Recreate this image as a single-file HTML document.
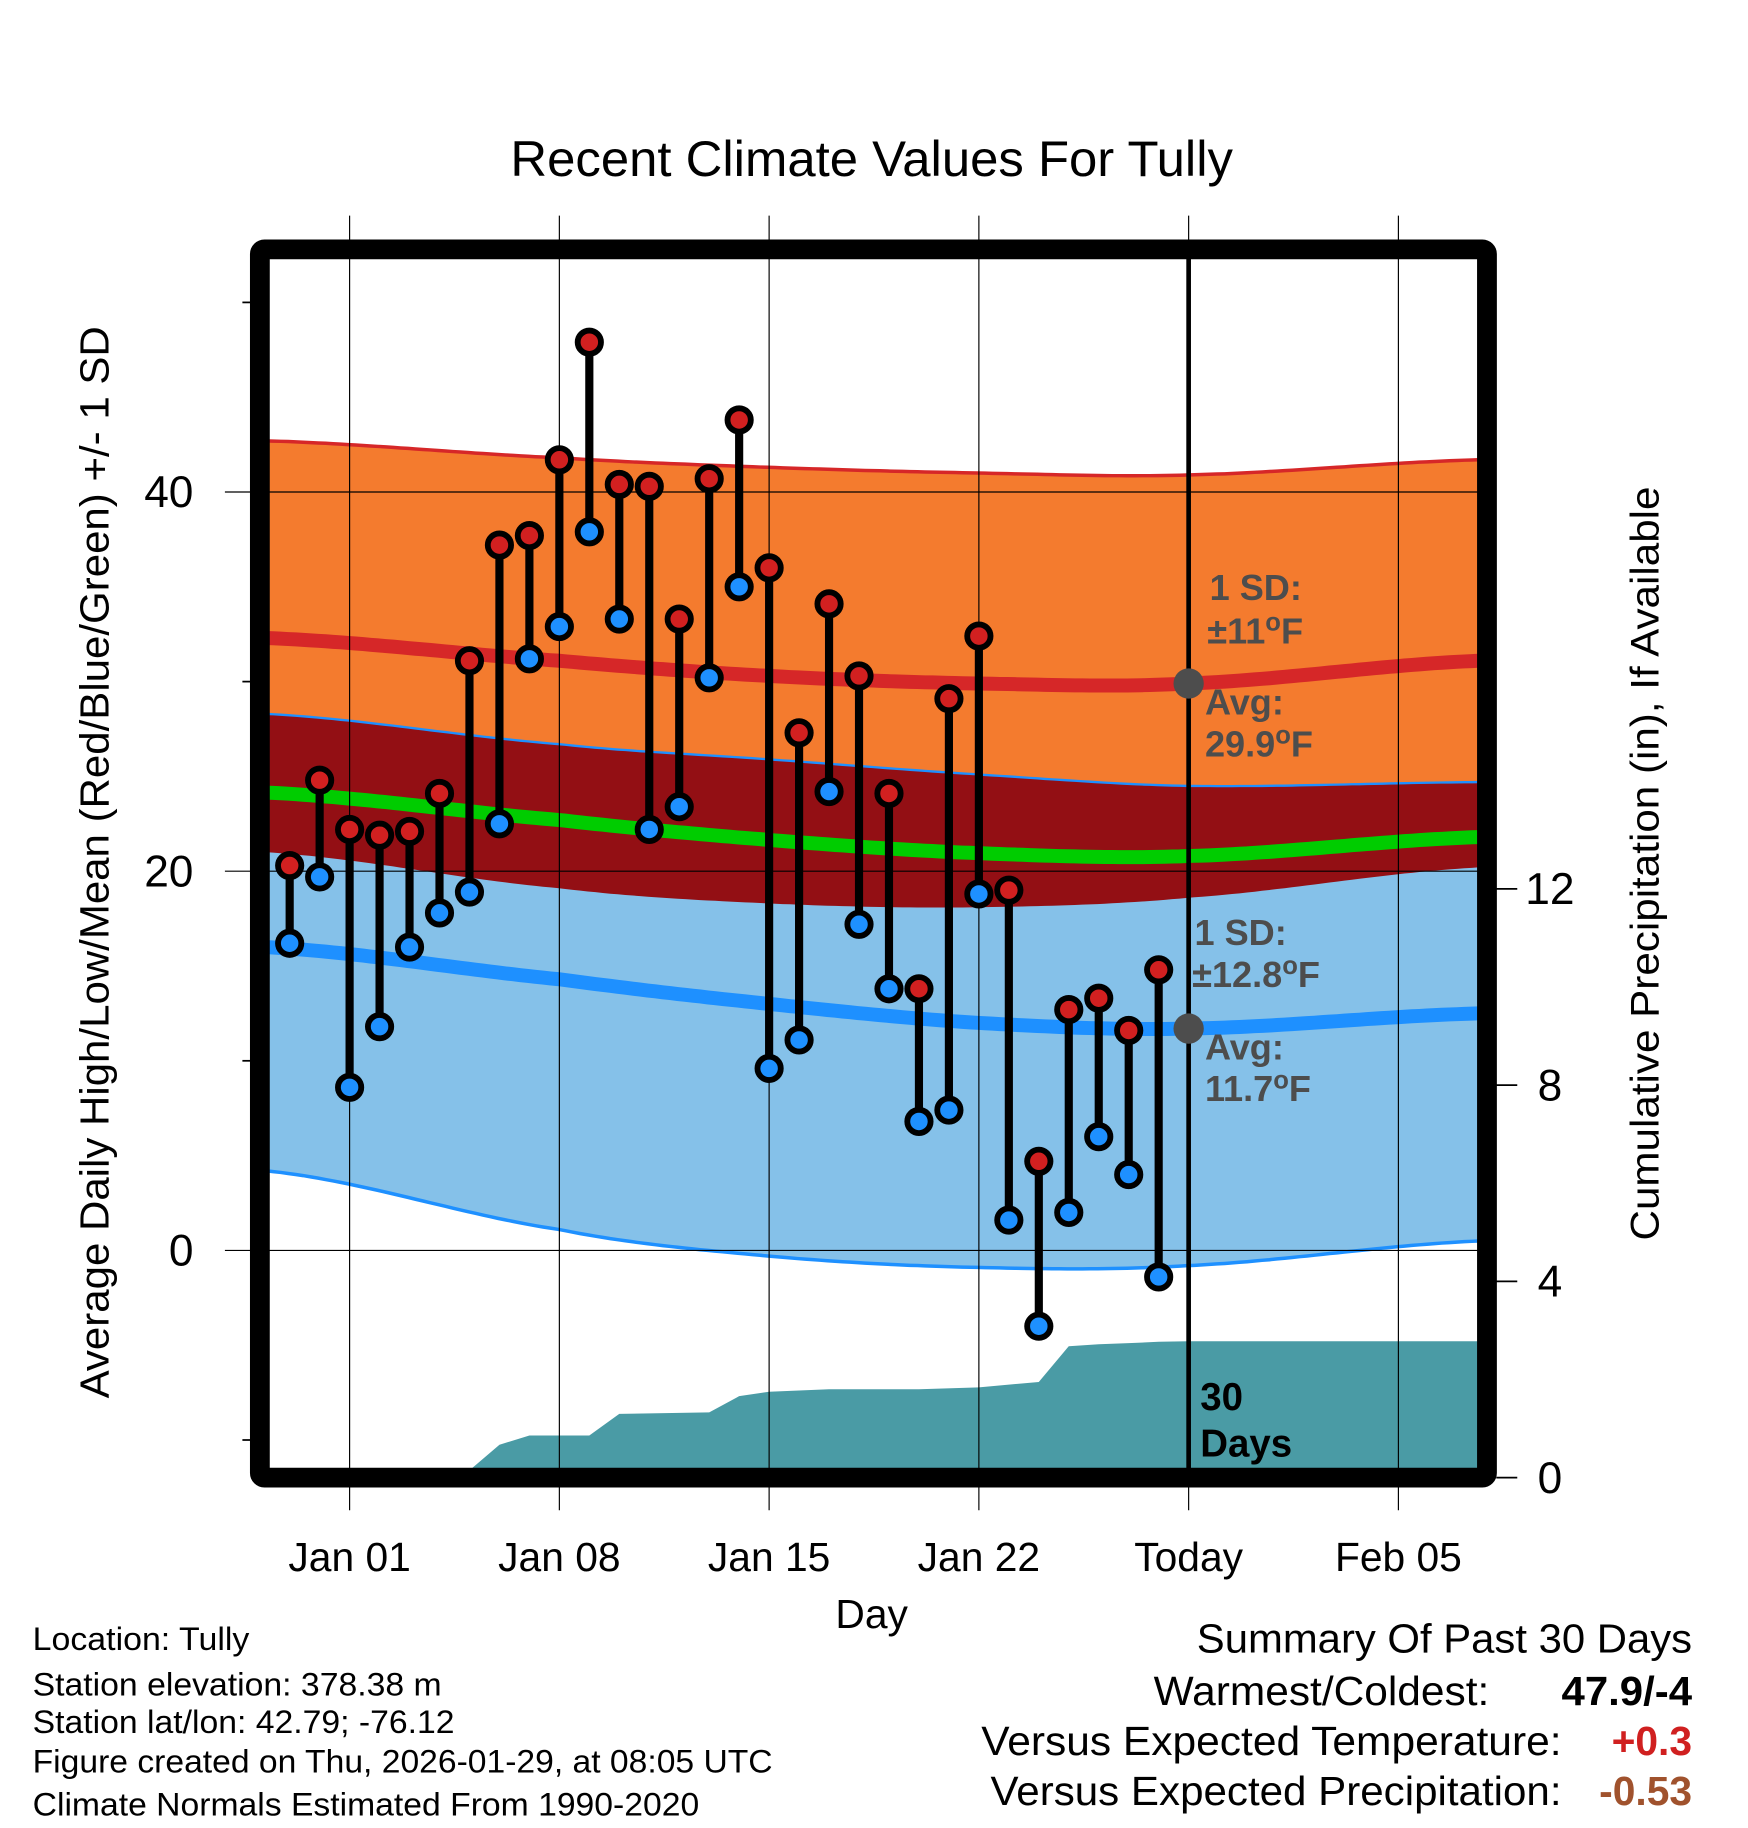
<!DOCTYPE html>
<html><head><meta charset="utf-8"><style>
html,body{margin:0;padding:0;background:#fff;}
svg{display:block;font-family:"Liberation Sans",Arial,sans-serif;}
</style></head><body>
<svg id="chart" width="1748" height="1828" viewBox="0 0 1500 1568.65" preserveAspectRatio="none" xmlns="http://www.w3.org/2000/svg">
<defs><clipPath id="plotclip"><rect x="231" y="222" width="1037" height="1038"/></clipPath></defs>
<text x="748" y="151" font-size="43" text-anchor="middle" textLength="620" lengthAdjust="spacingAndGlyphs">Recent Climate Values For Tully</text>
<g id="plot" clip-path="url(#plotclip)"></g>
<g id="over"></g>
<text transform="translate(93,740) rotate(-90)" font-size="35" text-anchor="middle" textLength="920" lengthAdjust="spacingAndGlyphs">Average Daily High/Low/Mean (Red/Blue/Green) +/- 1 SD</text>
<text transform="translate(1423,741) rotate(-90)" font-size="34" text-anchor="middle" textLength="647" lengthAdjust="spacingAndGlyphs">Cumulative Precipitation (in), If Available</text>
<text x="748" y="1397" font-size="35" text-anchor="middle">Day</text>
<g font-size="28">
<text x="28" y="1416" textLength="186" lengthAdjust="spacingAndGlyphs">Location: Tully</text>
<text x="28" y="1455" textLength="351" lengthAdjust="spacingAndGlyphs">Station elevation: 378.38 m</text>
<text x="28" y="1487" textLength="362" lengthAdjust="spacingAndGlyphs">Station lat/lon: 42.79; -76.12</text>
<text x="28" y="1521" textLength="635" lengthAdjust="spacingAndGlyphs">Figure created on Thu, 2026-01-29, at 08:05 UTC</text>
<text x="28" y="1558" textLength="572" lengthAdjust="spacingAndGlyphs">Climate Normals Estimated From 1990-2020</text>
</g>
<g font-size="35">
<text x="1452" y="1418" text-anchor="end" textLength="425" lengthAdjust="spacingAndGlyphs">Summary Of Past 30 Days</text>
<text x="1278" y="1463" text-anchor="end" textLength="288" lengthAdjust="spacingAndGlyphs">Warmest/Coldest:</text>
<text x="1452" y="1463" text-anchor="end" font-weight="bold" textLength="112" lengthAdjust="spacingAndGlyphs">47.9/-4</text>
<text x="1340" y="1506" text-anchor="end" textLength="498" lengthAdjust="spacingAndGlyphs">Versus Expected Temperature:</text>
<text x="1452" y="1506" text-anchor="end" font-weight="bold" fill="#d02020">+0.3</text>
<text x="1340" y="1549" text-anchor="end" textLength="490" lengthAdjust="spacingAndGlyphs">Versus Expected Precipitation:</text>
<text x="1452" y="1549" text-anchor="end" font-weight="bold" fill="#a0522d">-0.53</text>
</g>
</svg>
<script>
// ---- data ----
const dataDays = [-2,-1,0,1,2,3,4,5,6,7,8,9,10,11,12,13,14,15,16,17,18,19,20,21,22,23,24,25,26,27];
const highs = [20.3,24.8,22.2,21.9,22.1,24.1,31.1,37.2,37.7,41.7,47.9,40.4,40.3,33.3,40.7,43.8,36.0,27.3,34.1,30.3,24.1,13.8,29.1,32.4,19.0,4.7,12.7,13.3,11.6,14.8];
const lows = [16.2,19.7,8.6,11.8,16.0,17.8,18.9,22.5,31.2,32.9,37.9,33.3,22.2,23.4,30.2,35.0,9.6,11.1,24.2,17.2,13.8,6.8,7.4,18.8,1.6,-4.0,2.0,6.0,4.0,-1.4];
const normDays = [-2.8,7,14,21,28,37.7];
const normHigh = [32.3,31.1,30.3,29.9,29.9,31.1];
const normHighPlus = [42.7,41.8,41.3,41.0,40.9,41.7];
const normHighMinus = [21.0,19.1,18.3,18.1,18.6,20.2];
const normLow = [16.0,14.3,13.0,12.0,11.7,12.5];
const normLowPlus = [28.3,26.7,25.9,25.1,24.5,24.7];
const normLowMinus = [4.2,1.1,-0.3,-0.9,-0.8,0.5];
const precipDays = [-3,2,3,4,5,6,8,9,12,13,14,16,19,21,23,24,25,26,27,28,38];
const precipCum = [0,0,0.08,0.15,0.67,0.86,0.86,1.3,1.33,1.66,1.75,1.8,1.8,1.84,1.95,2.68,2.72,2.74,2.77,2.78,2.78];
const xTickDays = [0,7,14,21,28,35];
const xTickLabels = ["Jan 01","Jan 08","Jan 15","Jan 22","Today","Feb 05"];
const yMajor = [0,20,40];
const yMinor = [-10,10,30,50];
const y2Ticks = [0,4,8,12];
// ---- scales ----
const X = d => 300 + d*180/7;
const Y = t => 1073 - t*16.27;
const Y2 = p => 1268 - p*42.1;
const NS = "http://www.w3.org/2000/svg";
function mk(tag, attrs, parent){const e=document.createElementNS(NS,tag);for(const k in attrs)e.setAttribute(k,attrs[k]);parent.appendChild(e);return e;}
function interp(xs, ys, x){
  if(x<=xs[0])return ys[0];
  for(let i=0;i<xs.length-1;i++){ if(x<=xs[i+1]){
    const p0=ys[Math.max(i-1,0)],p1=ys[i],p2=ys[i+1],p3=ys[Math.min(i+2,ys.length-1)];
    const t=(x-xs[i])/(xs[i+1]-xs[i]);
    return 0.5*((2*p1)+(-p0+p2)*t+(2*p0-5*p1+4*p2-p3)*t*t+(-p0+3*p1-3*p2+p3)*t*t*t);}}
  return ys[ys.length-1];
}
const plot=document.getElementById('plot'), over=document.getElementById('over');
const samples=[]; for(let d=-2.8;d<=37.7;d+=0.25)samples.push(d);
const curve=(f)=>samples.map(d=>[X(d),Y(f(d))]);
const hi=d=>interp(normDays,normHigh,d), lo=d=>interp(normDays,normLow,d);
const hiP=d=>interp(normDays,normHighPlus,d), hiM=d=>interp(normDays,normHighMinus,d);
const loP=d=>interp(normDays,normLowPlus,d), loM=d=>interp(normDays,normLowMinus,d);
const ptsStr=a=>a.map(p=>p[0].toFixed(1)+','+p[1].toFixed(1)).join(' ');
function band(fTop,fBot,fill,name){
  const top=curve(fTop), bot=curve(fBot).reverse();
  const e=mk('polygon',{points:ptsStr(top.concat(bot)),fill:fill},plot);
  
  
}
band(hiP,hiM,'#f47b2e','high-sd-band');
band(loP,loM,'#85c1e9','low-sd-band');
band(d=>Math.min(loP(d),hiP(d)),d=>Math.max(hiM(d),loM(d)),'#930f14','overlap-band');
function line(f,color,w,name){
  const e=mk('polyline',{points:ptsStr(curve(f)),fill:'none',stroke:color,'stroke-width':w},plot);
  
  
}
line(hiP,'#d62728',3,'high-plus-sd-line');
line(loP,'#1e90ff',2,'low-plus-sd-line');
line(loM,'#1e90ff',3,'low-minus-sd-line');
line(hi,'#d62728',12,'avg-high-line');
line(lo,'#1e90ff',12,'avg-low-line');
line(d=>(hi(d)+lo(d))/2,'#00cc00',12,'avg-mean-line');
// precip
{
  const pts=precipDays.map((d,i)=>[X(d),Y2(precipCum[i])]);
  pts.push([X(38),Y2(0)]);pts.push([X(-3),Y2(0)]);
  const e=mk('polygon',{points:ptsStr(pts),fill:'#4a9ba5'},plot);
  
  
}
// grid
xTickDays.forEach((d,i)=>{
  const g=mk('line',{x1:X(d),x2:X(d),y1:185,y2:1296,stroke:'#000','stroke-width':1},over);
  
  
  const t=mk('text',{x:X(d),y:1348,'font-size':35,'text-anchor':'middle'},over);
  t.textContent=xTickLabels[i];
  
  
});
yMajor.forEach(v=>{
  const g=mk('line',{x1:193,x2:1268,y1:Y(v),y2:Y(v),stroke:'#000','stroke-width':1},over);
  
  
  const t=mk('text',{x:166,y:Y(v)+13,'font-size':38,'text-anchor':'end'},over);
  t.textContent=v;
  
  
});
yMinor.forEach(v=>{
  const g=mk('line',{x1:208,x2:216,y1:Y(v),y2:Y(v),stroke:'#000','stroke-width':1.5},over);
  
  
});
y2Ticks.forEach(v=>{
  const g=mk('line',{x1:1284,x2:1302,y1:Y2(v),y2:Y2(v),stroke:'#000','stroke-width':1.5},over);
  
  
  const t=mk('text',{x:1330,y:Y2(v)+13,'font-size':38,'text-anchor':'middle'},over);
  t.textContent=v;
  
  
});
// today line
{
  const e=mk('line',{x1:X(28),x2:X(28),y1:222,y2:1262,stroke:'#000','stroke-width':4},over);
  
  
}
// annotations
function txt(x,y,s,size,fill,name){const t=mk('text',{x:x,y:y,'font-size':size,'font-weight':'bold',fill:fill},over);t.innerHTML=s;return t;}
const deg='<tspan dy="-11" font-size="22">o</tspan><tspan dy="11">F</tspan>';
txt(1038,515,'1 SD:',31,'#4d4d4d','high-sd-label');
txt(1036,552,'±11'+deg,31,'#4d4d4d','high-sd-value');
txt(1034,613,'Avg:',31,'#4d4d4d','high-avg-label');
txt(1034,649,'29.9'+deg,31,'#4d4d4d','high-avg-value');
txt(1025,811,'1 SD:',31,'#4d4d4d','low-sd-label');
txt(1023,847,'±12.8'+deg,31,'#4d4d4d','low-sd-value');
txt(1034,909,'Avg:',31,'#4d4d4d','low-avg-label');
txt(1034,945,'11.7'+deg,31,'#4d4d4d','low-avg-value');
txt(1030,1210,'30',33,'#000','days-label-num');
txt(1030,1250,'Days',33,'#000','days-label-text');
[hi(28),lo(28)].forEach(v=>{
  const c=mk('circle',{cx:X(28),cy:Y(v),r:13,fill:'#4d4d4d'},over);
  
  
});
// stems & dots
dataDays.forEach((d,i)=>{
  const s=mk('line',{x1:X(d),x2:X(d),y1:Y(highs[i]),y2:Y(lows[i]),stroke:'#000','stroke-width':7},over);
  
  
});
dataDays.forEach((d,i)=>{
  const a=mk('circle',{cx:X(d),cy:Y(highs[i]),r:10,fill:'#d22020',stroke:'#000','stroke-width':5},over);
  
  
  const b=mk('circle',{cx:X(d),cy:Y(lows[i]),r:10,fill:'#1e90ff',stroke:'#000','stroke-width':5},over);
  
  
});
// frame
{
  const f=mk('rect',{x:223,y:214,width:1053,height:1054,rx:4,fill:'none',stroke:'#000','stroke-width':17},over);
  
  
}
</script>
</body></html>
